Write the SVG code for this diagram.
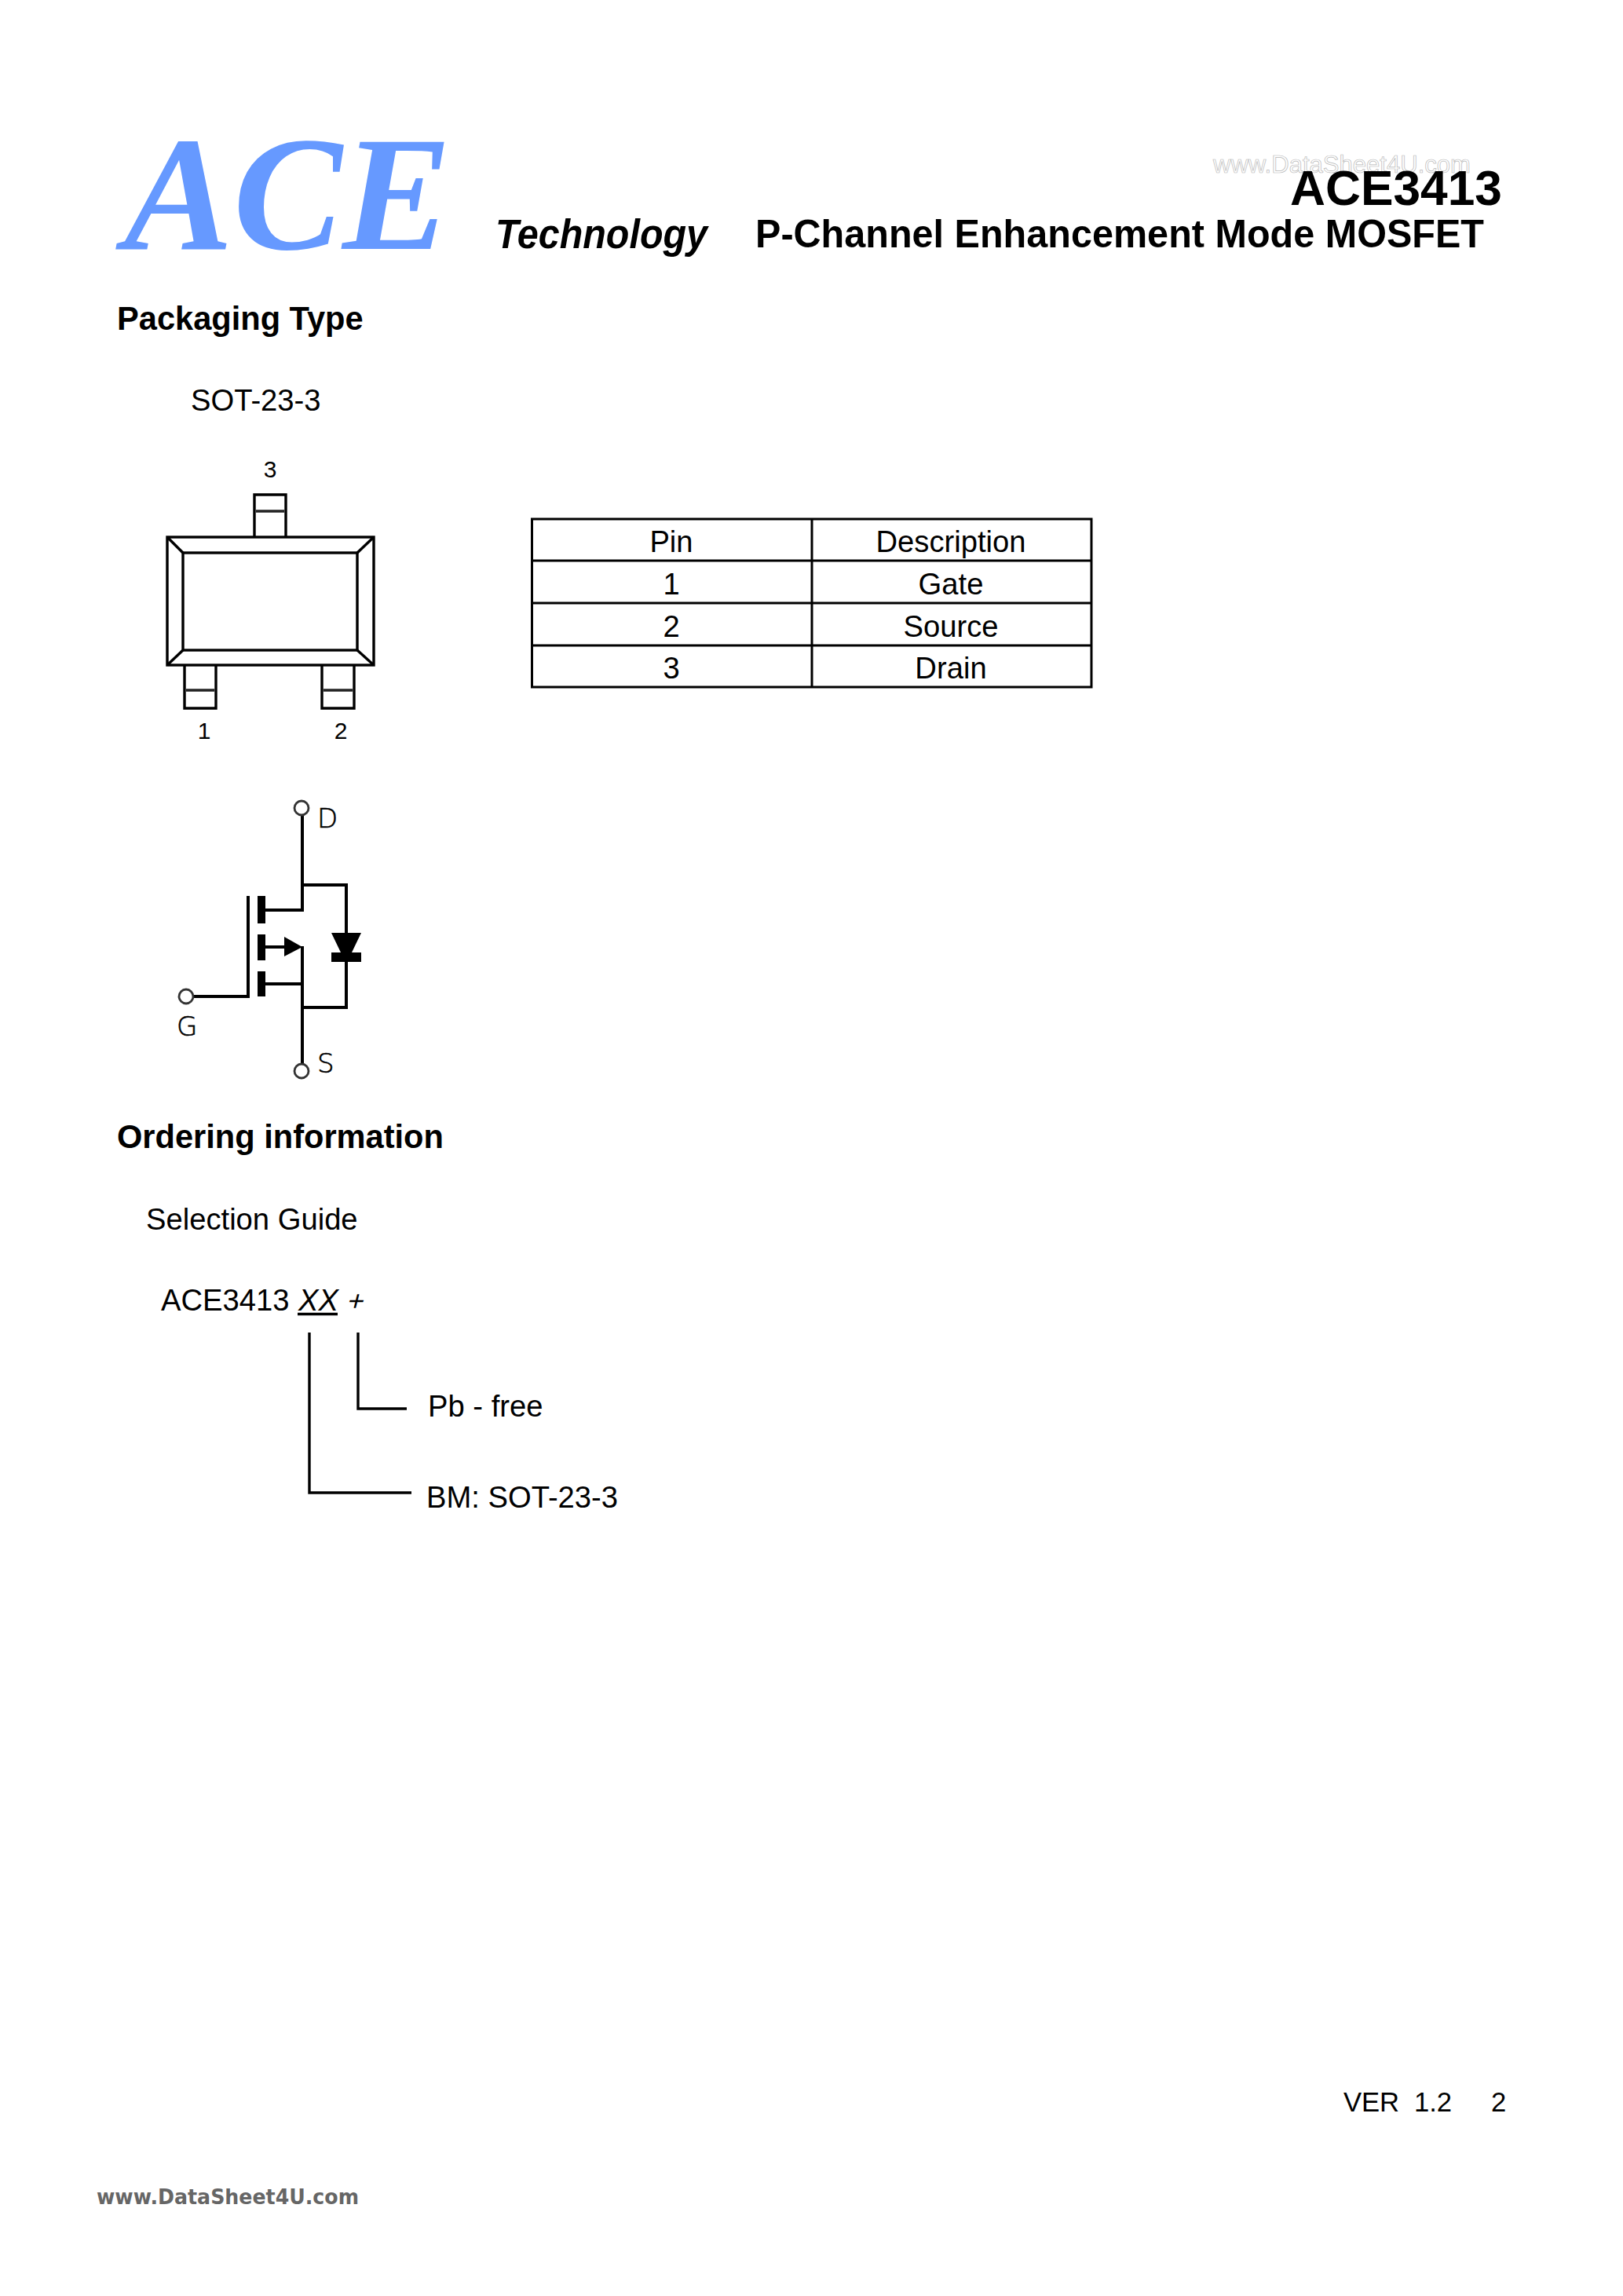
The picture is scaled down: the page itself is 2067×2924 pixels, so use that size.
<svg xmlns="http://www.w3.org/2000/svg" width="2067" height="2924" viewBox="0 0 2067 2924">
<style>
text{font-family:"Liberation Sans",Arial,sans-serif;fill:#000}
.b{font-weight:bold}
.h1{font-weight:bold;font-size:41.6px}
.t{font-size:38.2px}
.f{font-size:34.7px}
.c{text-anchor:middle}
.k{fill:none;stroke:#000;stroke-width:3.4}
.m{fill:none;stroke:#000;stroke-width:4}
.p{font-size:30px;text-anchor:middle}
.s{font-family:"DejaVu Sans",sans-serif;font-size:34px;font-weight:200;fill:#000;stroke:#000;stroke-width:.6}
.o{fill:#fff;stroke:#333;stroke-width:2.8}
</style>
<rect width="2067" height="2924" fill="#fff"/>
<g id="header">
<text x="158" y="317" style="font-family:'Liberation Serif',serif;font-weight:bold;font-style:italic;font-size:207px;fill:#6699ff" textLength="417" lengthAdjust="spacingAndGlyphs">ACE</text>
<text x="631" y="316" class="b" style="font-style:italic;font-size:51px" textLength="270" lengthAdjust="spacingAndGlyphs">Technology</text>
<text x="1545" y="220" style="font-size:30.6px;fill:#fff;stroke:#b8b8b8;stroke-width:.7" textLength="328" lengthAdjust="spacingAndGlyphs">www.DataSheet4U.com</text>
<text x="1643" y="261" class="b" style="font-size:62.500px" textLength="270" lengthAdjust="spacingAndGlyphs">ACE3413</text>
<text x="962" y="315" class="b" style="font-size:50px" textLength="928" lengthAdjust="spacingAndGlyphs">P-Channel Enhancement Mode MOSFET</text>
</g>
<g id="packaging">
<text x="149" y="420" class="h1">Packaging Type</text>
<text x="243" y="523" class="t">SOT-23-3</text>
</g>
<g id="sot23">
<rect class="k" x="213" y="684" width="263" height="163"/>
<rect class="k" x="233" y="704" width="222" height="124"/>
<path class="k" d="M213 684L233 704M476 684L455 704M213 847L233 828M476 847L455 828"/>
<path class="k" d="M324 684V630H364V684M235 847V902H275V847M410 847V902H451V847"/>
<path d="M326 651H362M237 879H273M412 879H449" style="fill:none;stroke:#222;stroke-width:3.400"/>
<text x="344" y="608" class="p">3</text>
<text x="260" y="941" class="p">1</text>
<text x="434" y="941" class="p">2</text>
</g>
<g id="pin-table">
<path d="M677.500 661H1390V875H677.500ZM1034 661V875M677.500 714H1390M677.500 768H1390M677.500 822H1390" style="fill:none;stroke:#000;stroke-width:3"/>
<text x="855" y="703" class="t c">Pin</text><text x="1211" y="703" class="t c">Description</text>
<text x="855" y="757" class="t c">1</text><text x="1211" y="757" class="t c">Gate</text>
<text x="855" y="811" class="t c">2</text><text x="1211" y="811" class="t c">Source</text>
<text x="855" y="864" class="t c">3</text><text x="1211" y="864" class="t c">Drain</text>
</g>
<g id="mosfet">
<path class="m" d="M385 1038V1159H338M385 1127H441V1190M441 1224V1283H385M385 1205V1355M338 1206H370M338 1253H385M316 1141V1269H247"/>
<path d="M328 1141h10v35h-10zM328 1190h10v33h-10zM328 1237h10v32h-10zM362 1193L385 1206L362 1218zM422 1188H460L448 1213H460V1225H422V1213H434z"/>
<circle class="o" cx="384" cy="1029" r="9"/>
<circle class="o" cx="384" cy="1364" r="9"/>
<circle class="o" cx="237" cy="1269" r="9"/>
<text x="404" y="1054" class="s">D</text>
<text x="225" y="1319" class="s">G</text>
<text x="404" y="1366" class="s">S</text>
</g>
<g id="ordering">
<text x="149" y="1462" class="h1">Ordering information</text>
<text x="186" y="1566" class="t">Selection Guide</text>
<text x="205" y="1669" class="t">ACE3413</text>
<text x="380" y="1669" class="t" style="font-style:italic">XX</text>
<text transform="translate(440 1669) skewX(-14)" style="font-size:36px;font-style:italic">+</text>
<text x="545" y="1804" class="t">Pb - free</text>
<text x="543" y="1920" class="t">BM: SOT-23-3</text>
</g>
<g id="connectors">
<path d="M379 1673.500H430" style="fill:none;stroke:#000;stroke-width:3.400"/>
<path d="M394 1697V1901H524M456 1697V1794H518" style="fill:none;stroke:#000;stroke-width:3.400"/>
</g>
<g id="footer">
<text x="1711" y="2689" class="f" xml:space="preserve" textLength="138" lengthAdjust="spacing">VER  1.2</text>
<text x="1899" y="2689" class="f">2</text>
<text x="123" y="2807" style="font-family:'DejaVu Sans',sans-serif;font-weight:bold;font-size:27px;fill:#666" textLength="334" lengthAdjust="spacingAndGlyphs">www.DataSheet4U.com</text>
</g>
</svg>
